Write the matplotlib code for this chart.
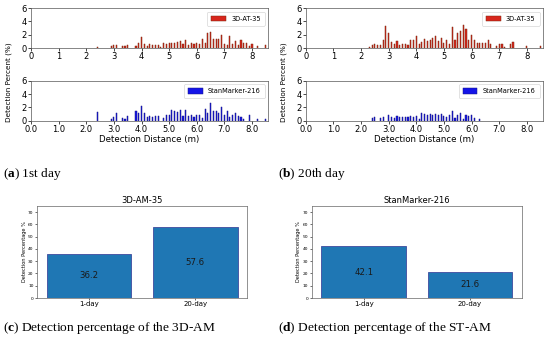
import matplotlib
matplotlib.use("Agg")
import matplotlib.pyplot as plt
import numpy as np

plt.rcParams.update({
    "font.family": "DejaVu Sans",
    "mathtext.fontset": "custom",
    "mathtext.rm": "Liberation Serif",
    "mathtext.bf": "Liberation Serif:bold",
})

# detection distance bins (m)
distances = [2.3, 2.4, 2.5, 2.6, 2.7, 2.8, 2.9, 3.0, 3.1, 3.2,
             3.3, 3.4, 3.5, 3.6, 3.7, 3.8, 3.9, 4.0, 4.1, 4.2,
             4.3, 4.4, 4.5, 4.6, 4.7, 4.8, 4.9, 5.0, 5.1, 5.2,
             5.3, 5.4, 5.5, 5.6, 5.7, 5.8, 5.9, 6.0, 6.1, 6.2,
             6.3, 6.4, 6.5, 6.6, 6.7, 6.8, 6.9, 7.0, 7.1, 7.2,
             7.3, 7.4, 7.5, 7.6, 7.7, 7.8, 7.9, 8.0, 8.1, 8.2,
             8.3, 8.4, 8.5]

at35_day1 = [0, 0.2, 0, 0, 0, 0, 0.3, 0.4, 0.4, 0,
             0.3, 0.3, 0.4, 0, 0, 0.3, 0.7, 1.6, 0.6, 0.3,
             0.6, 0.4, 0.4, 0.4, 0.2, 0.7, 0.6, 0.8, 0.8, 0.8,
             0.9, 1.0, 0.6, 1.2, 0.4, 0.8, 0.6, 0.8, 0.6, 1.4,
             0.8, 2.3, 2.4, 1.3, 1.3, 1.4, 2.0, 0.6, 0.5, 1.8,
             0.6, 1.1, 0.4, 1.2, 0.7, 0.8, 0.3, 0.6, 0, 0.3,
             0, 0, 0.4]
sm216_day1 = [0, 1.25, 0, 0, 0, 0, 0.3, 0.5, 1.2, 0,
              0.4, 0.3, 0.7, 0, 0, 1.5, 1.2, 2.2, 1.2, 0.6,
              0.7, 0.6, 0.7, 0.7, 0, 0.4, 0.9, 0.9, 1.6, 1.5,
              1.3, 1.6, 0.7, 1.6, 0.7, 0.8, 0.6, 0.9, 0.8, 0.4,
              1.8, 1.1, 2.6, 1.5, 1.4, 1.2, 2.1, 0.9, 1.5, 0.5,
              0.8, 1.1, 0.7, 0.5, 0.3, 0, 0.8, 0, 0, 0.2,
              0, 0, 0.2]
at35_day20 = [0.2, 0.4, 0.6, 0.5, 0.5, 1.2, 3.3, 2.3, 0.9, 0.6,
              1.1, 0.5, 0.6, 0.6, 0.5, 1.2, 1.2, 1.8, 0.6, 0.9,
              1.3, 1.0, 1.2, 1.5, 1.8, 1.1, 1.5, 0.8, 1.2, 0.6,
              3.1, 1.2, 2.2, 2.6, 3.5, 2.8, 1.2, 2.0, 1.2, 0.7,
              0.7, 0.7, 0.7, 1.2, 0.6, 0, 0.3, 0.6, 0.6, 0.2,
              0, 0.6, 0.9, 0, 0, 0, 0, 0.3, 0, 0,
              0, 0, 0.3]
sm216_day20 = [0, 0.4, 0.5, 0, 0.4, 0.5, 0, 0.9, 0.5, 0.4,
               0.7, 0.6, 0.6, 0.5, 0.6, 0.7, 0.6, 0.7, 0.2, 1.1,
               1.0, 0.8, 1.0, 0.9, 1.0, 0.9, 1.0, 0.7, 0.6, 0.9,
               1.5, 0.4, 0.9, 1.2, 0.2, 0.8, 0.7, 0.8, 0.4, 0,
               0.2, 0, 0, 0, 0, 0, 0, 0, 0, 0,
               0, 0, 0, 0, 0, 0, 0, 0, 0, 0,
               0, 0, 0]

days = ["1-day", "20-day"]
am35_pct = [36.2, 57.6]
sm216_pct = [42.1, 21.6]

RED, RED_EDGE = "#d8261c", "#7e2a12"
BLUE, BLUE_EDGE = "#1414e8", "#1a1a85"
TOP_W, TOP_H = 0.431, 0.117


def hist_axes(rect, vals, color, edge, label, fmt):
    ax = fig.add_axes(rect)
    d = np.array(distances)
    v = np.array(vals)
    keep = v > 0
    ax.bar(d[keep], v[keep], width=0.04, color=color, edgecolor=edge,
           linewidth=0.35, label=label)
    ax.set_xlim(0, 8.58)
    ax.set_ylim(0, 6)
    ax.set_yticks([0, 2, 4, 6])
    ax.set_xticks(range(9))
    ax.set_xticklabels([fmt.format(t) for t in range(9)])
    ax.tick_params(labelsize=6, length=2, width=0.5, pad=1)
    for s in ax.spines.values():
        s.set_linewidth(0.5)
        s.set_color("#555555")
    ax.legend(loc="upper right", fontsize=4.8, handlelength=2.2,
              handleheight=0.9, borderpad=0.6, framealpha=1,
              edgecolor="#cccccc").get_frame().set_linewidth(0.4)
    return ax


def pct_axes(rect, vals, title):
    ax = fig.add_axes(rect)
    bars = ax.bar(days, vals, color="#1f77b4", edgecolor="#3e4a9e",
                  linewidth=0.6)
    for b, v in zip(bars, vals):
        ax.text(b.get_x() + b.get_width() / 2, v / 2, f"{v}",
                ha="center", va="center", fontsize=6.2, color="#1a1a1a")
    ax.set_ylim(0, 75)
    ax.set_yticks(range(0, 80, 10))
    ax.set_title(title, fontsize=6, pad=2)
    ax.set_ylabel("Detection Percentage %", fontsize=3.6, labelpad=1)
    ax.tick_params(axis="y", labelsize=3.2, length=1.5, width=0.4, pad=1)
    ax.tick_params(axis="x", labelsize=5, length=1.5, width=0.4, pad=1)
    for s in ax.spines.values():
        s.set_linewidth(0.5)
        s.set_color("#666666")
    return ax


fig = plt.figure(figsize=(5.5, 3.4), dpi=100)

hist_axes([0.0564, 0.8588, TOP_W, TOP_H], at35_day1, RED, RED_EDGE,
          "3D-AT-35", "{:d}")
ax = hist_axes([0.0564, 0.645, TOP_W, TOP_H], sm216_day1, BLUE, BLUE_EDGE,
               "StanMarker-216", "{:.1f}")
ax.set_xlabel("Detection Distance (m)", fontsize=6.2, labelpad=1)
hist_axes([0.556, 0.8588, TOP_W, TOP_H], at35_day20, RED, RED_EDGE,
          "3D-AT-35", "{:d}")
ax = hist_axes([0.556, 0.645, TOP_W, TOP_H], sm216_day20, BLUE, BLUE_EDGE,
               "StanMarker-216", "{:.1f}")
ax.set_xlabel("Detection Distance (m)", fontsize=6.2, labelpad=1)

fig.text(0.016, 1 - 82 / 340, "Detection Percent (%)", rotation=90,
         ha="center", va="center", fontsize=5.2)
fig.text(0.516, 1 - 82 / 340, "Detection Percent (%)", rotation=90,
         ha="center", va="center", fontsize=5.2)

pct_axes([0.0673, 0.1235, 0.382, 0.2706], am35_pct, "3D-AM-35")
pct_axes([0.567, 0.1235, 0.382, 0.2706], sm216_pct, "StanMarker-216")

cap = dict(fontsize=9.6, family="Liberation Serif", va="center", ha="left")
fig.text(0.006, 1 - 174 / 340, r"($\mathbf{a}$) 1st day", **cap)
fig.text(0.506, 1 - 174 / 340, r"($\mathbf{b}$) 20th day", **cap)
fig.text(0.006, 1 - 328 / 340,
         r"($\mathbf{c}$) Detection percentage of the 3D-AM", **cap)
fig.text(0.506, 1 - 328 / 340,
         r"($\mathbf{d}$) Detection percentage of the ST-AM", **cap)

fig.savefig("out.png", dpi=100)
